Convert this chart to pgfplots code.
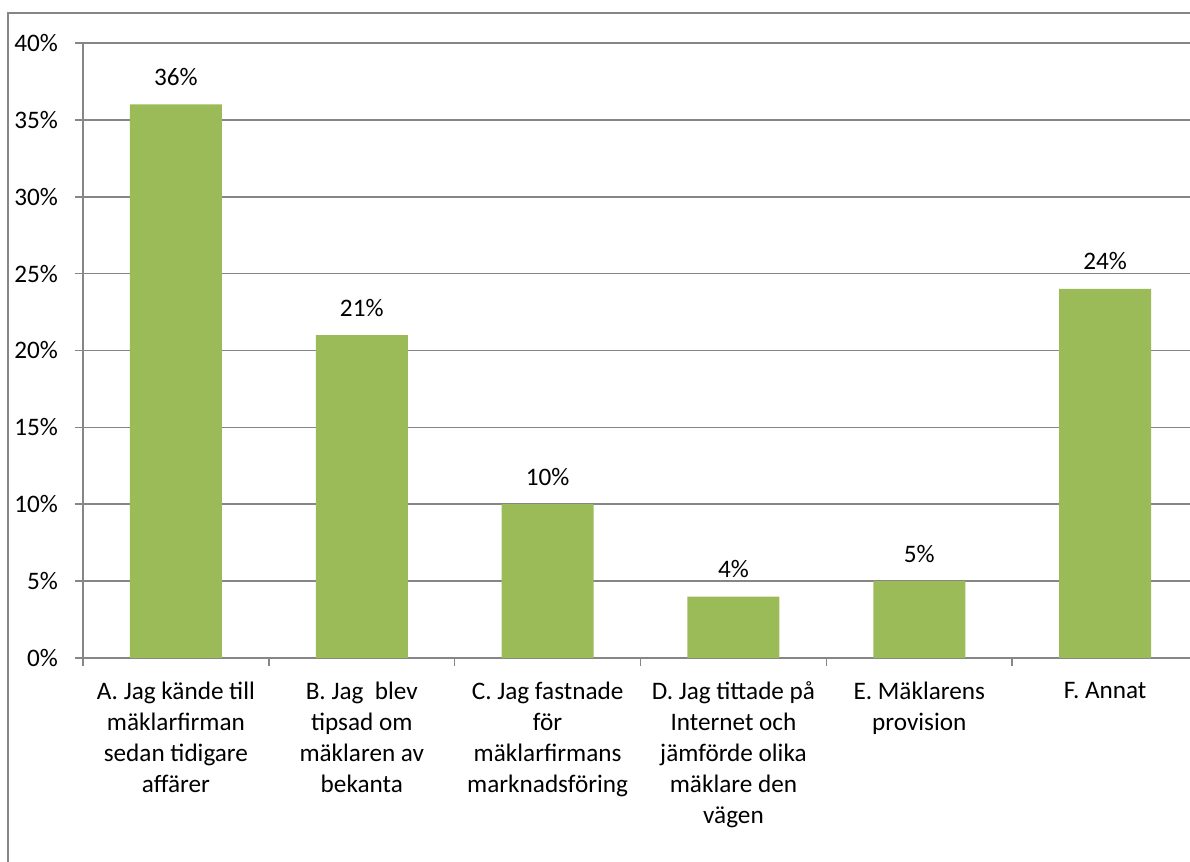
\documentclass[border=0pt]{standalone}
\usepackage{fontspec}
\setmainfont{Carlito}
\usepackage{pgfplots}
\pgfplotsset{compat=1.18}
\definecolor{bargreen}{HTML}{9BBB59}
\definecolor{linegray}{HTML}{868686}
\begin{document}
\begin{tikzpicture}[x=0.5bp,y=0.5bp]
\useasboundingbox (0,0) rectangle (1190,861);
\clip (0,0) rectangle (1190,861);
\draw[linegray, line width=0.8bp] (8,-20) -- (8,848) -- (1220,848);
\begin{axis}[
  at={(87.96bp,101.5bp)}, anchor=origin,
  scale only axis, width=557.5bp, height=307.5bp,
  xmin=-0.5, xmax=5.5, ymin=0, ymax=40,
  axis x line*=bottom, axis y line*=left,
  axis line style={linegray, line width=0.8bp},
  ymajorgrids, grid style={linegray, line width=0.8bp},
  ytick={0,5,...,40},
  yticklabels={0\%,5\%,10\%,15\%,20\%,25\%,30\%,35\%,40\%},
  xtick={-0.5,0.5,...,5.5}, xticklabels={},
  tick align=outside, major tick length=4bp,
  tick style={linegray, line width=0.8bp},
  ticklabel style={font=\fontsize{12.6bp}{15.5bp}\selectfont},
  yticklabel style={xshift=-5bp},
  extra x ticks={0,1,2,3,4,5},
  extra x tick labels={
    {A. Jag kände till\\mäklarfirman\\sedan tidigare\\affärer},
    {B. Jag\ \ blev\\tipsad om\\mäklaren av\\bekanta},
    {C. Jag fastnade\\för\\mäklarfirmans\\marknadsföring},
    {D. Jag tittade på\\Internet och\\jämförde olika\\mäklare den\\vägen},
    {E. Mäklarens\\provision},
    {F. Annat}},
  extra x tick style={major tick length=0pt, grid=none,
    xticklabel style={align=center, anchor=north, yshift=-8.5bp}},
  /pgf/number format/assume math mode=true,
  clip=false,
]
\addplot[ybar, bar width=46bp, fill=bargreen, draw=none,
  nodes near coords={\pgfmathprintnumber{\pgfplotspointmeta}\%},
  every node near coord/.append style={font=\fontsize{12.6bp}{15.5bp}\selectfont, anchor=base, yshift=9.5bp, black}]
  coordinates {(0,36) (1,21) (2,10) (3,4) (4,5) (5,24)};
\end{axis}
\end{tikzpicture}
\end{document}
